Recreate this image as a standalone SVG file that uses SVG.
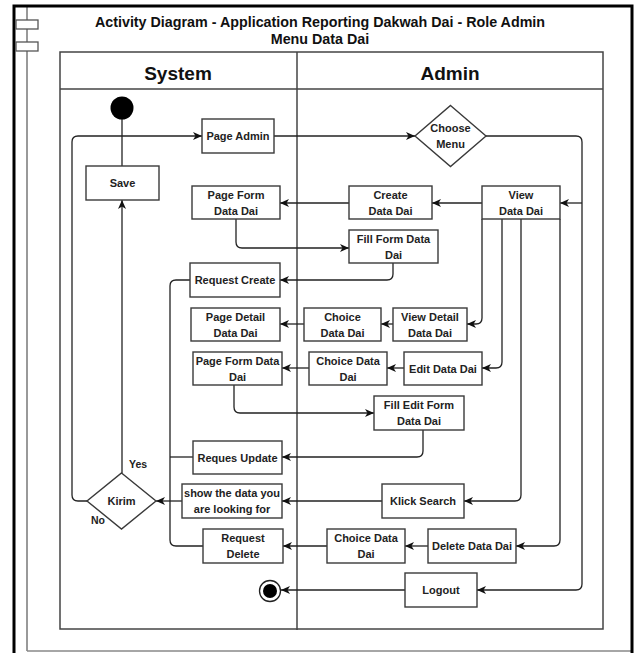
<svg xmlns="http://www.w3.org/2000/svg" width="640" height="653" viewBox="0 0 640 653">
  <style>
    .frame { fill: none; stroke: #000; stroke-width: 3; }
    .comp { fill: none; stroke: #777; stroke-width: 1.5; }
    .tab { fill: #fff; stroke: #555; stroke-width: 1.3; }
    .lane { fill: none; stroke: #444; stroke-width: 1.5; }
    .box { fill: #fff; stroke: #3a3a3a; stroke-width: 1.4; }
    .edge { fill: none; stroke: #222; stroke-width: 1.3; }
    .arr { marker-end: url(#arrow); }
    text { font-family: "Liberation Sans", Arial, Helvetica, sans-serif; font-weight: bold; fill: #222; text-anchor: middle; }
    .title { font-size: 14.3px; fill: #111; }
    .head { font-size: 19px; fill: #111; }
    .lbl { font-size: 11px; }
    .small { font-size: 10.5px; text-anchor: start; }
  </style>
  <defs>
    <marker id="arrow" markerUnits="userSpaceOnUse" markerWidth="10" markerHeight="8" refX="9" refY="4" orient="auto">
      <path d="M0,0 L9,4 L0,8 L2.5,4 z" fill="#111"/>
    </marker>
  </defs>

  <!-- component frame -->
  <g id="frame">
    <line class="comp" x1="27" y1="6" x2="27" y2="651"/>
    <line x1="27" y1="651" x2="632" y2="651" stroke="#888" stroke-width="1.5"/>
    <path class="frame" d="M14,653 V6 H632 V653"/>
    <rect class="tab" x="16" y="20" width="22" height="9"/>
    <rect class="tab" x="16" y="42" width="22" height="9"/>
    <text class="title" x="320" y="27">Activity Diagram - Application Reporting Dakwah Dai - Role Admin</text>
    <text class="title" x="320" y="44">Menu Data Dai</text>
  </g>

  <!-- swimlanes -->
  <g id="lanes">
    <rect class="lane" x="60" y="52" width="543" height="577"/>
    <line class="lane" x1="60" y1="89" x2="603" y2="89"/>
    <line class="lane" x1="297" y1="52" x2="297" y2="630"/>
    <text class="head" x="178" y="80">System</text>
    <text class="head" x="450" y="80">Admin</text>
  </g>

  <!-- connectors -->
  <g id="connectors">
    <path class="edge" d="M122,119 V166"/>
    <path class="edge arr" d="M122,473 V200"/>
    <path class="edge arr" d="M87,501 H78 Q72,501 72,495 V142 Q72,136 78,136 H202"/>
    <path class="edge arr" d="M274,136 H415"/>
    <path class="edge arr" d="M486,136 H576 Q582,136 582,142 V584 Q582,590 576,590 H477"/>
    <path class="edge arr" d="M582,203 H560"/>
    <path class="edge arr" d="M482,203 H432"/>
    <path class="edge arr" d="M349,203 H280"/>
    <path class="edge arr" d="M236,219 V242 Q236,248 242,248 H349"/>
    <path class="edge arr" d="M393,263 V274 Q393,280 387,280 H280"/>
    <path class="edge" d="M190,280 H176 Q170,280 170,286 V540 Q170,546 176,546 H203"/>
    <path class="edge" d="M193,457 H170"/>
    <path class="edge arr" d="M482,219 V318 Q482,324 476,324 H467"/>
    <path class="edge arr" d="M393,324 H381"/>
    <path class="edge arr" d="M304,324 H280"/>
    <path class="edge arr" d="M502,219 V362 Q502,368 496,368 H482"/>
    <path class="edge arr" d="M404,368 H387"/>
    <path class="edge arr" d="M309,368 H282"/>
    <path class="edge arr" d="M234,385 V407 Q234,413 240,413 H374"/>
    <path class="edge arr" d="M423,430 V451 Q423,457 417,457 H282"/>
    <path class="edge arr" d="M521,219 V495 Q521,501 515,501 H464"/>
    <path class="edge arr" d="M382,501 H282"/>
    <path class="edge arr" d="M182,501 H156"/>
    <path class="edge arr" d="M560,219 V540 Q560,546 554,546 H516"/>
    <path class="edge arr" d="M428,546 H405"/>
    <path class="edge arr" d="M327,546 H283"/>
    <path class="edge arr" d="M405,590 H281"/>
  </g>

  <!-- nodes -->
  <g id="start"><circle cx="122" cy="108" r="11.5" fill="#000"/></g>

  <g id="page-admin"><rect class="box" x="202" y="119" width="72" height="34"/><text class="lbl" x="238" y="140">Page Admin</text></g>

  <g id="choose-menu">
    <polygon class="box" points="450.5,105.5 486,136 450.5,166.5 415,136"/>
    <text class="lbl" x="450.5" y="132">Choose</text><text class="lbl" x="450.5" y="148">Menu</text>
  </g>

  <g id="save"><rect class="box" x="86" y="166" width="73" height="34"/><text class="lbl" x="122.5" y="187">Save</text></g>

  <g id="page-form"><rect class="box" x="192" y="186" width="88" height="33"/><text class="lbl" x="236" y="198.5">Page Form</text><text class="lbl" x="236" y="214.5">Data Dai</text></g>

  <g id="create-data"><rect class="box" x="349" y="186" width="83" height="33"/><text class="lbl" x="390.5" y="198.5">Create</text><text class="lbl" x="390.5" y="214.5">Data Dai</text></g>

  <g id="view-data"><rect class="box" x="482" y="186" width="78" height="33"/><text class="lbl" x="521" y="198.5">View</text><text class="lbl" x="521" y="214.5">Data Dai</text></g>

  <g id="fill-form"><rect class="box" x="349" y="230" width="89" height="33"/><text class="lbl" x="393.5" y="242.5">Fill Form Data</text><text class="lbl" x="393.5" y="258.5">Dai</text></g>

  <g id="request-create"><rect class="box" x="190" y="263" width="90" height="34"/><text class="lbl" x="235" y="284">Request Create</text></g>

  <g id="page-detail"><rect class="box" x="191" y="308" width="89" height="33"/><text class="lbl" x="235.5" y="320.5">Page Detail</text><text class="lbl" x="235.5" y="336.5">Data Dai</text></g>

  <g id="choice-detail"><rect class="box" x="304" y="308" width="77" height="33"/><text class="lbl" x="342.5" y="320.5">Choice</text><text class="lbl" x="342.5" y="336.5">Data Dai</text></g>

  <g id="view-detail"><rect class="box" x="393" y="308" width="74" height="33"/><text class="lbl" x="430" y="320.5">View Detail</text><text class="lbl" x="430" y="336.5">Data Dai</text></g>

  <g id="page-form-edit"><rect class="box" x="193" y="352" width="89" height="33"/><text class="lbl" x="237.5" y="364.5">Page Form Data</text><text class="lbl" x="237.5" y="380.5">Dai</text></g>

  <g id="choice-edit"><rect class="box" x="309" y="352" width="78" height="33"/><text class="lbl" x="348" y="364.5">Choice Data</text><text class="lbl" x="348" y="380.5">Dai</text></g>

  <g id="edit-data"><rect class="box" x="404" y="352" width="78" height="33"/><text class="lbl" x="443" y="372.5">Edit Data Dai</text></g>

  <g id="fill-edit"><rect class="box" x="374" y="396" width="90" height="34"/><text class="lbl" x="419" y="409">Fill Edit Form</text><text class="lbl" x="419" y="425">Data Dai</text></g>

  <g id="reques-update"><rect class="box" x="193" y="441" width="89" height="33"/><text class="lbl" x="237.5" y="461.5">Reques Update</text></g>

  <g id="kirim">
    <polygon class="box" points="121.5,473 156,501 121.5,529 87,501"/>
    <text class="lbl" x="121.5" y="505">Kirim</text>
    <text class="small" x="129" y="468">Yes</text>
    <text class="small" x="91" y="524">No</text>
  </g>

  <g id="show-data"><rect class="box" x="182" y="484" width="100" height="34"/><text class="lbl" x="232" y="497">show the data you</text><text class="lbl" x="232" y="513">are looking for</text></g>

  <g id="klick-search"><rect class="box" x="382" y="484" width="82" height="34"/><text class="lbl" x="423" y="505">Klick Search</text></g>

  <g id="request-delete"><rect class="box" x="203" y="529" width="80" height="34"/><text class="lbl" x="243" y="542">Request</text><text class="lbl" x="243" y="558">Delete</text></g>

  <g id="choice-delete"><rect class="box" x="327" y="529" width="78" height="34"/><text class="lbl" x="366" y="542">Choice Data</text><text class="lbl" x="366" y="558">Dai</text></g>

  <g id="delete-data"><rect class="box" x="428" y="529" width="88" height="34"/><text class="lbl" x="472" y="550">Delete Data Dai</text></g>

  <g id="logout"><rect class="box" x="405" y="573" width="72" height="34"/><text class="lbl" x="441" y="594">Logout</text></g>

  <g id="end">
    <circle cx="270" cy="591" r="10.5" fill="#fff" stroke="#222" stroke-width="1.3"/>
    <circle cx="270" cy="591" r="7" fill="#000"/>
  </g>
</svg>
